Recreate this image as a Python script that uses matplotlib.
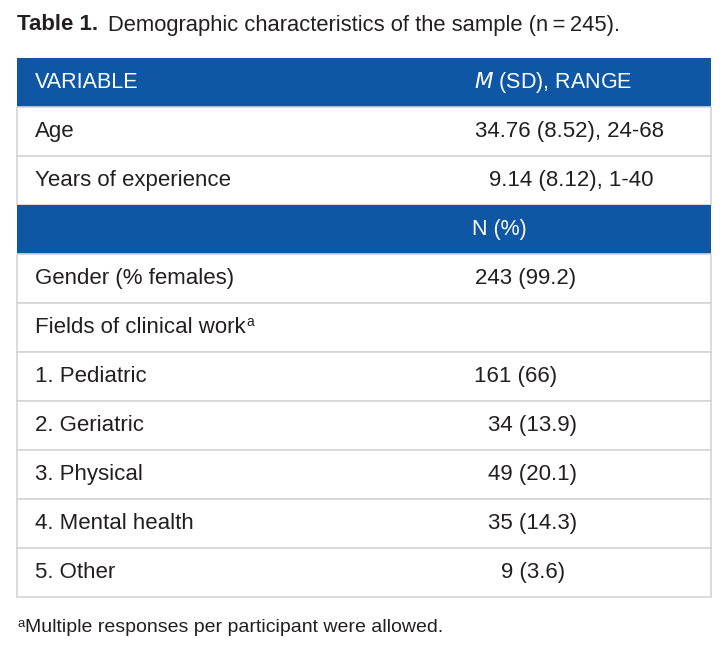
import matplotlib
matplotlib.use("Agg")
import matplotlib.pyplot as plt
from matplotlib.patches import Rectangle

plt.rcParams['font.family'] = ['Liberation Sans', 'DejaVu Sans']

# table content
row_labels = ["Age", "Years of experience", None, "Gender (% females)",
              "Fields of clinical work", "1. Pediatric", "2. Geriatric",
              "3. Physical", "4. Mental health", "5. Other"]
row_values = ["34.76 (8.52), 24-68", "9.14 (8.12), 1-40", "N (%)", "243 (99.2)",
              "", "161 (66)", "34 (13.9)", "49 (20.1)", "35 (14.3)", "9 (3.6)"]
# where each value starts (pixels), values column isn't cleanly aligned in the source
val_x = [475, 489, 472, 475, 0, 474, 488, 488, 488, 501]

W, H = 728, 655
blue = "#0f57a5"
grid = "#d4d4d4"
txt = "#231f20"
fs = 16

fig = plt.figure(figsize=(W / 100, H / 100), dpi=100)
ax = fig.add_axes([0, 0, 1, 1])
ax.set_xlim(0, W)
ax.set_ylim(H, 0)
ax.axis("off")

left, right = 17, 711
top = 58
rh = 49

# title
ax.text(left, 25, "Table 1.", fontsize=fs, fontweight="bold", color=txt, va="center")
ax.text(108, 25, "Demographic characteristics of the sample (n\u2009=\u2009245).",
        fontsize=15.8, color=txt, va="center")

# header row
ax.add_patch(Rectangle((left, top), right - left, rh, color=blue, lw=0))
ax.text(35, top + rh / 2, "VARIABLE", fontsize=15.5, color="white", va="center")
ax.text(474, top + rh / 2, "$\\mathit{M}$ (SD), RANGE", fontsize=15.5, color="white", va="center")

renderer = fig.canvas.get_renderer()

y = top + rh
for i in range(len(row_labels)):
    lab = row_labels[i]
    val = row_values[i]
    if lab is None:
        # second header bar
        ax.add_patch(Rectangle((left, y), right - left, rh, color=blue, lw=0))
        ax.text(val_x[i], y + rh / 2, val, fontsize=15.5, color="white", va="center")
    else:
        ax.add_patch(Rectangle((left, y), right - left, rh, facecolor="white",
                               edgecolor=grid, lw=1.2))
        t = ax.text(35, y + rh / 2, lab, fontsize=fs, color=txt, va="center")
        if lab == "Fields of clinical work":
            # superscript a right after the label
            bb = t.get_window_extent(renderer)
            ax.text(bb.x1 + 1, y + rh / 2 - 5, "a", fontsize=10, color=txt, va="center")
        if val:
            ax.text(val_x[i], y + rh / 2, val, fontsize=fs, color=txt, va="center")
    y += rh

# footnote
ax.text(left, 624, "a", fontsize=9.5, color=txt, va="center")
ax.text(left + 8, 628, "Multiple responses per participant were allowed.",
        fontsize=14, color=txt, va="center")

fig.savefig("out.png", dpi=100)
